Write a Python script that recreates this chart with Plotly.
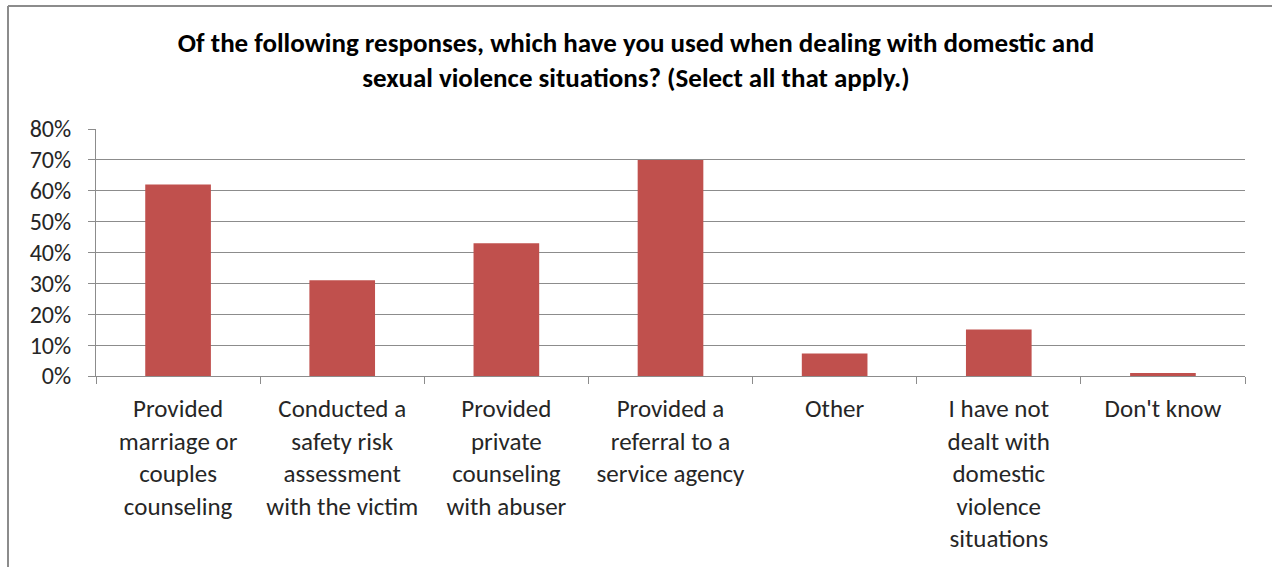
import plotly.graph_objects as go

categories = [
    "Provided<br>marriage or<br>couples<br>counseling",
    "Conducted a<br>safety risk<br>assessment<br>with the victim",
    "Provided<br>private<br>counseling<br>with abuser",
    "Provided a<br>referral to a<br>service agency",
    "Other",
    "I have not<br>dealt with<br>domestic<br>violence<br>situations",
    "Don't know",
]
values = [0.62, 0.31, 0.43, 0.70, 0.073, 0.151, 0.01]
y_ticks = [0, 0.1, 0.2, 0.3, 0.4, 0.5, 0.6, 0.7, 0.8]
title_text = ("Of the following responses, which have you used when dealing with domestic and<br>"
              "sexual violence situations? (Select all that apply.)")

FONT = "Carlito, Calibri, Lato, 'Open Sans', sans-serif"

fig = go.Figure(go.Bar(
    x=categories, y=values,
    marker=dict(color="#C0504D", line=dict(width=0)),
    width=0.4,
))

# plot area: x 96..1245, y 129..376 (px); border at x=8, y=6
L, R, T, B = 96, 1245, 129, 376
W, H = R - L, B - T

fig.update_layout(
    width=1272, height=567,
    paper_bgcolor="white", plot_bgcolor="white",
    margin=dict(l=L, r=1272 - R, t=T, b=567 - B, autoexpand=False),
    font=dict(family=FONT, color="#262626"),
    title=dict(text="<b>" + title_text + "</b>", x=0.5, xanchor="center",
               y=(567 - 52) / 567, yanchor="top",
               font=dict(size=27, family=FONT, color="#000000")),
    showlegend=False,
    bargap=0.6,
    shapes=[
        dict(type="line", xref="paper", yref="paper",
             x0=(8 - L) / W, x1=(8 - L) / W,
             y0=(B - 600) / H, y1=(B - 6) / H,
             line=dict(color="#8c8c8c", width=2), layer="above"),
        dict(type="line", xref="paper", yref="paper",
             x0=(8 - L) / W, x1=(1272 - L) / W,
             y0=(B - 6) / H, y1=(B - 6) / H,
             line=dict(color="#8c8c8c", width=2), layer="above"),
    ],
)
fig.update_yaxes(
    range=[0, 0.8], tickvals=y_ticks, tickformat=".0%",
    showgrid=True, gridcolor="#8c8c8c", gridwidth=1,
    showline=True, linecolor="#8c8c8c", linewidth=1,
    ticks="outside", ticklen=7, tickcolor="#8c8c8c",
    tickfont=dict(size=24, family=FONT, color="#262626"),
    ticklabelstandoff=12,
    zeroline=False,
)
fig.update_xaxes(
    showline=True, linecolor="#8c8c8c", linewidth=1,
    ticks="outside", ticklen=7, tickcolor="#8c8c8c", tickson="boundaries",
    tickfont=dict(size=25, family=FONT, color="#262626"),
    ticklabelstandoff=10,
    tickangle=0,
)

fig.write_html("out.html",
               config={"displayModeBar": False},
               post_script="document.body.style.margin='0';document.body.style.overflow='hidden';")
